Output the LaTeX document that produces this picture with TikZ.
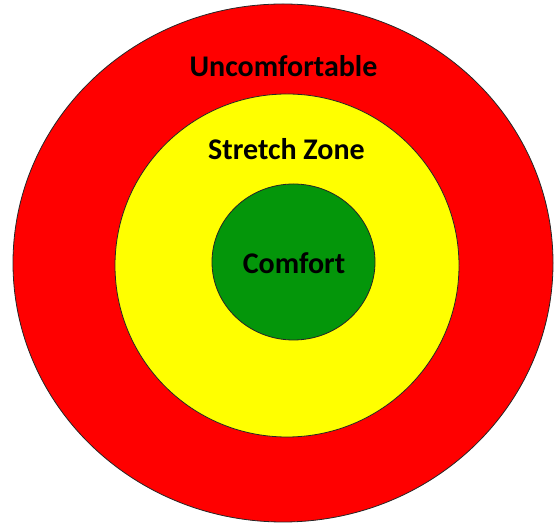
\documentclass[tikz,border=0pt]{standalone}
\usepackage{fontspec}
\setmainfont{Carlito}
\usetikzlibrary{shapes.geometric, positioning}
\definecolor{zonered}{rgb}{1, 0, 0}
\definecolor{zoneyellow}{rgb}{1, 1, 0}
\definecolor{zonegreen}{RGB}{4, 150, 10}
\tikzstyle{zone} = [ellipse, draw=black!85, line width=0.8pt, inner sep=0pt]
\tikzstyle{zonetext} = [anchor=base, inner sep=0pt, font=\fontsize{30}{34}\selectfont\bfseries, text=black]

\begin{document}
\begin{tikzpicture}[x=1pt, y=1pt]
\useasboundingbox (0,0) rectangle (554,524);

% Zones
\node (outer) [zone, fill=zonered, minimum width=540pt, minimum height=518pt] at (283,261) {};
\node (stretch) [zone, fill=zoneyellow, minimum width=344pt, minimum height=343pt] at (287,258.5) {};
\node (comfort) [zone, fill=zonegreen, minimum width=163pt, minimum height=156pt] at (293.5,262) {};

% Labels
\node (outerText) [zonetext] at (283.5,447) {Uncomfortable};
\node (stretchText) [zonetext] at (286.5,364) {Stretch Zone};
\node (comfortText) [zonetext] at (294,250) {Comfort};

\end{tikzpicture}
\end{document}
